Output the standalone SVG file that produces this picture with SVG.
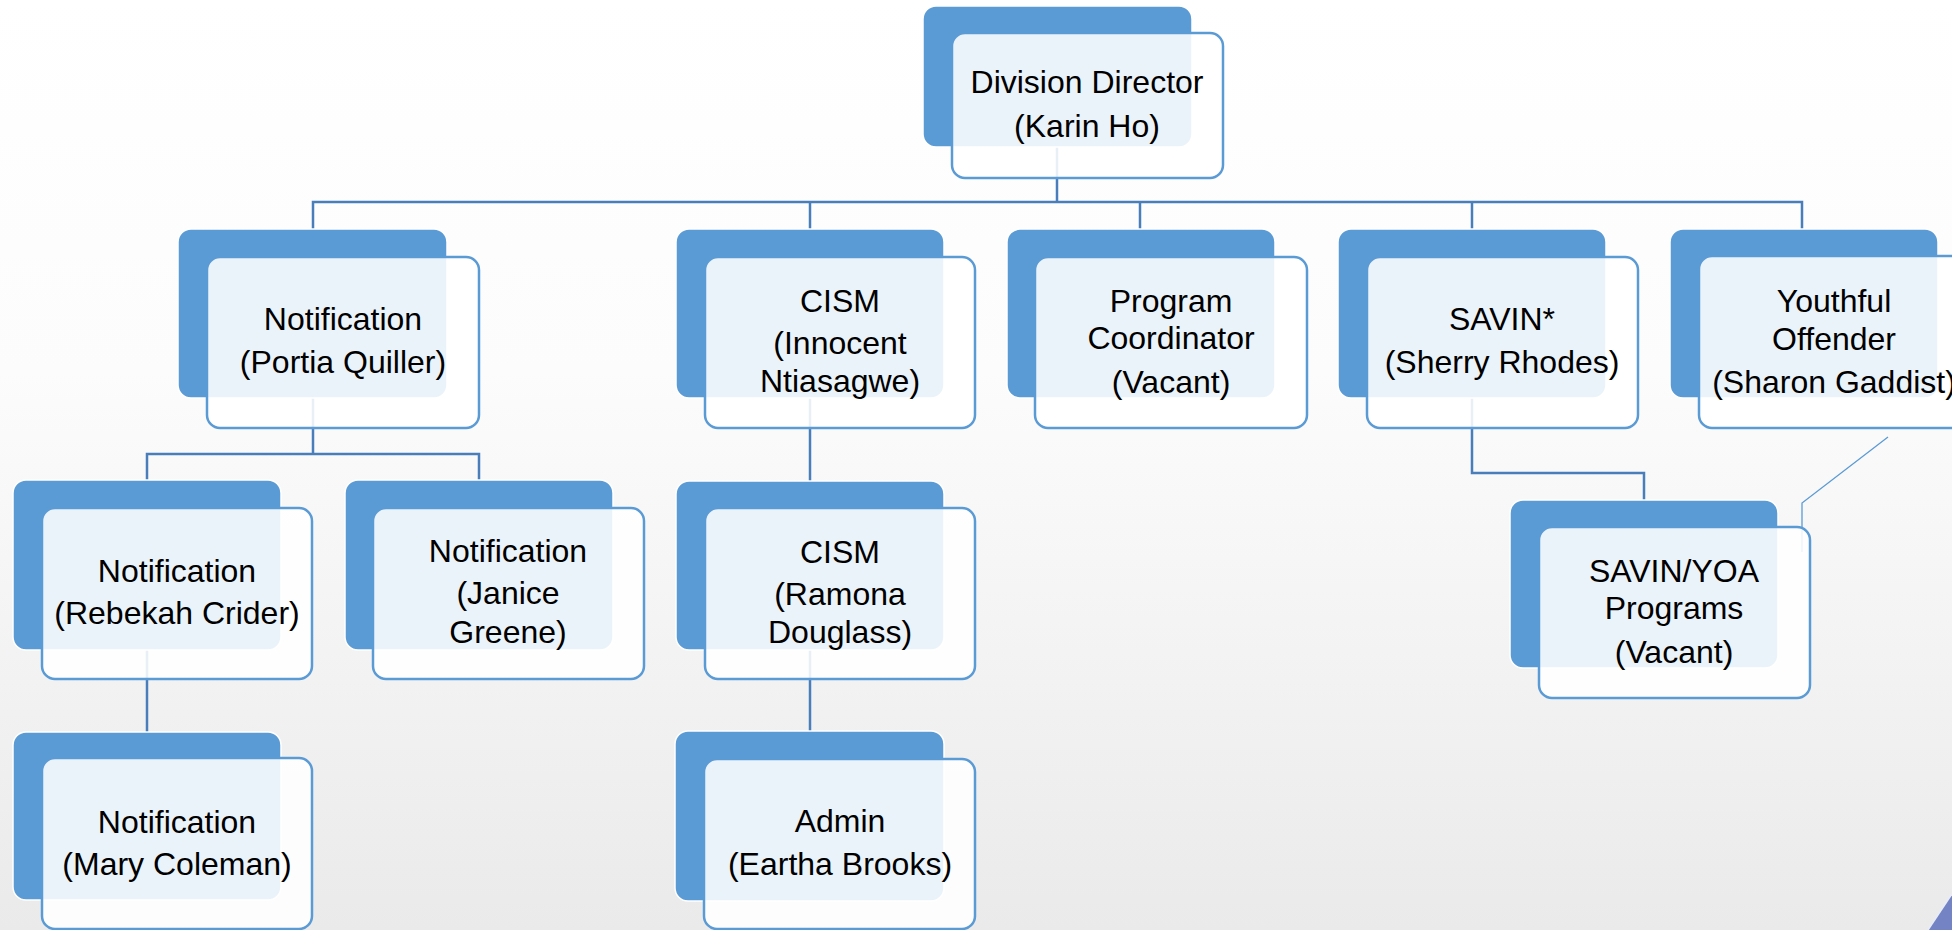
<svg xmlns="http://www.w3.org/2000/svg" width="1952" height="930" viewBox="0 0 1952 930">
<defs>
<linearGradient id="bg" x1="0" y1="0" x2="0" y2="1">
<stop offset="0" stop-color="#FFFFFF"/>
<stop offset="0.4" stop-color="#FCFCFC"/>
<stop offset="1" stop-color="#EAEAEA"/>
</linearGradient>
<style>
.back{fill:#5B9BD5;stroke:#FFFFFF;stroke-width:1.5}
.front{fill:#FFFFFF;fill-opacity:0.88;stroke:#5B9BD5;stroke-width:2.5}
.conn{fill:none;stroke:#4A7EBB;stroke-width:2.5}
.thin{fill:none;stroke:#5B9BD5;stroke-width:1.3}
text{font-family:"Liberation Sans",Arial,sans-serif;font-size:32px;fill:#000000;text-anchor:middle}
</style>
</defs>
<rect x="0" y="0" width="1952" height="930" fill="url(#bg)"/>
<polygon points="1928,930 1952,894 1952,930" fill="#7383C4"/>
<line x1="1928" y1="930" x2="1952" y2="894" stroke="#E8ECF6" stroke-width="1.5"/>

<g id="connectors">
<path class="conn" d="M1057,147 V202"/>
<path class="conn" d="M313,229 V202 H1802 V229"/>
<path class="conn" d="M810,202 V229"/>
<path class="conn" d="M1140,202 V229"/>
<path class="conn" d="M1472,202 V229"/>
<path class="conn" d="M313,398 V454 M147,480 V454 H479 V480"/>
<path class="conn" d="M147,650 V732"/>
<path class="conn" d="M810,398 V481"/>
<path class="conn" d="M810,650 V731"/>
<path class="conn" d="M1472,398 V473 H1644 V500"/>
<path class="thin" d="M1888,437 L1802,503 V552"/>
</g>

<g id="director">
<rect class="back" x="923" y="6" width="269" height="141" rx="13"/>
<rect class="front" x="952" y="33" width="271" height="145" rx="13"/>
<text x="1087" y="93">Division Director</text>
<text x="1087" y="137">(Karin Ho)</text>
</g>

<g id="portia">
<rect class="back" x="178" y="229" width="269" height="169" rx="13"/>
<rect class="front" x="207" y="257" width="272" height="171" rx="13"/>
<text x="343" y="330">Notification</text>
<text x="343" y="373">(Portia Quiller)</text>
</g>

<g id="cism-innocent">
<rect class="back" x="676" y="229" width="268" height="169" rx="13"/>
<rect class="front" x="705" y="257" width="270" height="171" rx="13"/>
<text x="840" y="312">CISM</text>
<text x="840" y="354">(Innocent</text>
<text x="840" y="392">Ntiasagwe)</text>
</g>

<g id="program-coordinator">
<rect class="back" x="1007" y="229" width="268" height="169" rx="13"/>
<rect class="front" x="1035" y="257" width="272" height="171" rx="13"/>
<text x="1171" y="312">Program</text>
<text x="1171" y="349">Coordinator</text>
<text x="1171" y="393">(Vacant)</text>
</g>

<g id="savin">
<rect class="back" x="1338" y="229" width="268" height="169" rx="13"/>
<rect class="front" x="1367" y="257" width="271" height="171" rx="13"/>
<text x="1502" y="330">SAVIN*</text>
<text x="1502" y="373">(Sherry Rhodes)</text>
</g>

<g id="youthful">
<rect class="back" x="1670" y="229" width="268" height="169" rx="13"/>
<rect class="front" x="1699" y="256" width="271" height="172" rx="13"/>
<text x="1834" y="312">Youthful</text>
<text x="1834" y="350">Offender</text>
<text x="1834" y="393">(Sharon Gaddist)</text>
</g>

<g id="rebekah">
<rect class="back" x="13" y="480" width="268" height="170" rx="13"/>
<rect class="front" x="42" y="508" width="270" height="171" rx="13"/>
<text x="177" y="582">Notification</text>
<text x="177" y="624">(Rebekah Crider)</text>
</g>

<g id="janice">
<rect class="back" x="345" y="480" width="268" height="170" rx="13"/>
<rect class="front" x="373" y="508" width="271" height="171" rx="13"/>
<text x="508" y="562">Notification</text>
<text x="508" y="604">(Janice</text>
<text x="508" y="643">Greene)</text>
</g>

<g id="cism-ramona">
<rect class="back" x="676" y="481" width="268" height="169" rx="13"/>
<rect class="front" x="705" y="508" width="270" height="171" rx="13"/>
<text x="840" y="563">CISM</text>
<text x="840" y="605">(Ramona</text>
<text x="840" y="643">Douglass)</text>
</g>

<g id="savin-yoa">
<rect class="back" x="1510" y="500" width="268" height="168" rx="13"/>
<rect class="front" x="1539" y="527" width="271" height="171" rx="13"/>
<text x="1674" y="582">SAVIN/YOA</text>
<text x="1674" y="619">Programs</text>
<text x="1674" y="663">(Vacant)</text>
</g>

<g id="mary">
<rect class="back" x="13" y="732" width="268" height="168" rx="13"/>
<rect class="front" x="42" y="758" width="270" height="171" rx="13"/>
<text x="177" y="833">Notification</text>
<text x="177" y="875">(Mary Coleman)</text>
</g>

<g id="admin">
<rect class="back" x="675" y="731" width="269" height="170" rx="13"/>
<rect class="front" x="704" y="759" width="271" height="170" rx="13"/>
<text x="840" y="832">Admin</text>
<text x="840" y="875">(Eartha Brooks)</text>
</g>
</svg>
